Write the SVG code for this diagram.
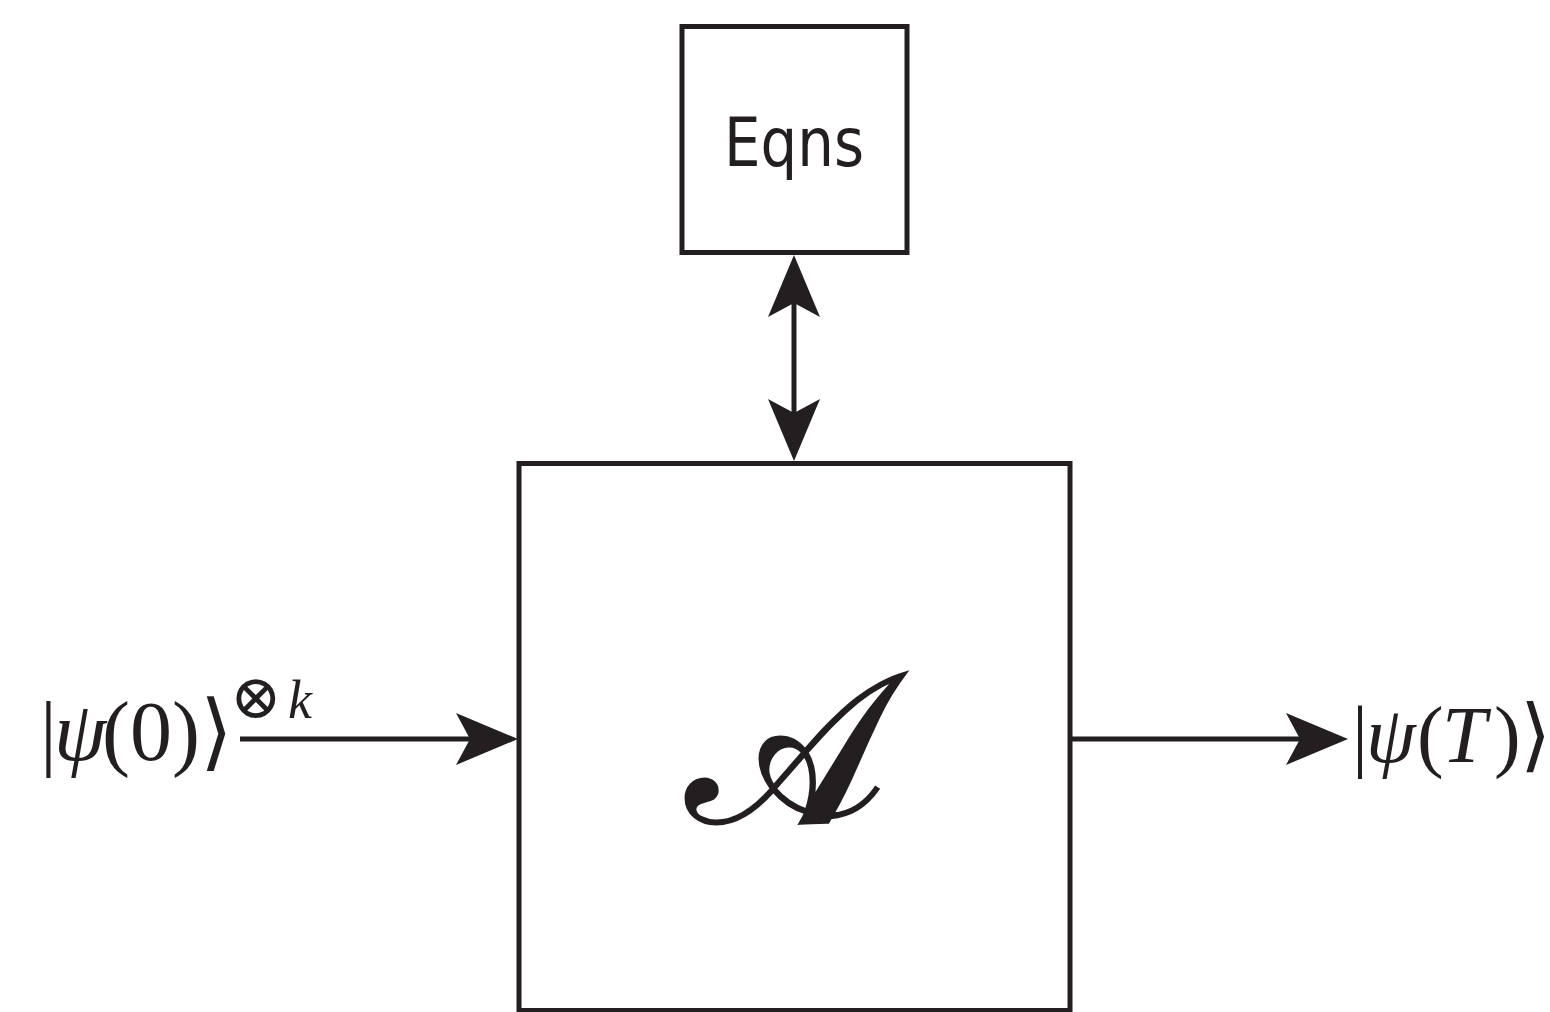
<svg xmlns="http://www.w3.org/2000/svg" width="1550" height="1012" viewBox="0 0 1550 1012">
  <style>
    .box { fill: #ffffff; stroke: #231f20; stroke-width: 5; }
    .wire { fill: none; stroke: #231f20; stroke-width: 5; }
    .math { font-family: "Liberation Serif", "DejaVu Serif", serif; fill: #231f20; }
    .it { font-style: italic; }
    .label { font-family: "DejaVu Sans", "Liberation Sans", sans-serif; fill: #231f20; }
  </style>
  <defs>
    <!-- notched arrowhead; the line ends at the notch, the tip sits 48px beyond -->
    <marker id="head" markerUnits="userSpaceOnUse" markerWidth="80" markerHeight="60"
            refX="0" refY="0" orient="auto-start-reverse" overflow="visible" viewBox="-20 -30 80 60">
      <path d="M48,0 L-14,-26 L0,0 L-14,26 Z" fill="#231f20"/>
    </marker>
  </defs>

  <rect width="1550" height="1012" fill="#ffffff"/>

  <!-- equations block -->
  <g id="eqns">
    <rect class="box" x="682" y="26.5" width="225" height="226"/>
    <text class="label" x="794" y="166" font-size="68" text-anchor="middle"
          textLength="140" lengthAdjust="spacingAndGlyphs">Eqns</text>
  </g>

  <!-- algorithm block -->
  <g id="algorithm">
    <rect class="box" x="519" y="463.5" width="551" height="547"/>
    <text class="math" x="786" y="822" font-size="212" text-anchor="middle" stroke="#231f20" stroke-width="3">𝒜</text>
  </g>

  <!-- input state -->
  <g id="input">
    <text class="math" font-size="84" y="760">
      <tspan x="40">|</tspan><tspan class="it" x="54">ψ</tspan><tspan x="102">(0)⟩</tspan>
    </text>
    <text class="math" y="718">
      <tspan x="230" font-size="62">⊗</tspan><tspan class="it" x="288" font-size="54">k</tspan>
    </text>
  </g>

  <!-- output state -->
  <g id="output">
    <text class="math" font-size="80" y="762">
      <tspan x="1352">|</tspan><tspan class="it" x="1366">ψ</tspan><tspan x="1417">(</tspan><tspan class="it" x="1442">T</tspan><tspan x="1494">)</tspan><tspan x="1520">⟩</tspan>
    </text>
  </g>

  <!-- connectors -->
  <g id="connectors">
    <line class="wire" x1="794" y1="303" x2="794" y2="413" marker-start="url(#head)" marker-end="url(#head)"/>
    <line class="wire" x1="240" y1="739" x2="470" y2="739" marker-end="url(#head)"/>
    <line class="wire" x1="1072" y1="739" x2="1300" y2="739" marker-end="url(#head)"/>
  </g>
</svg>
